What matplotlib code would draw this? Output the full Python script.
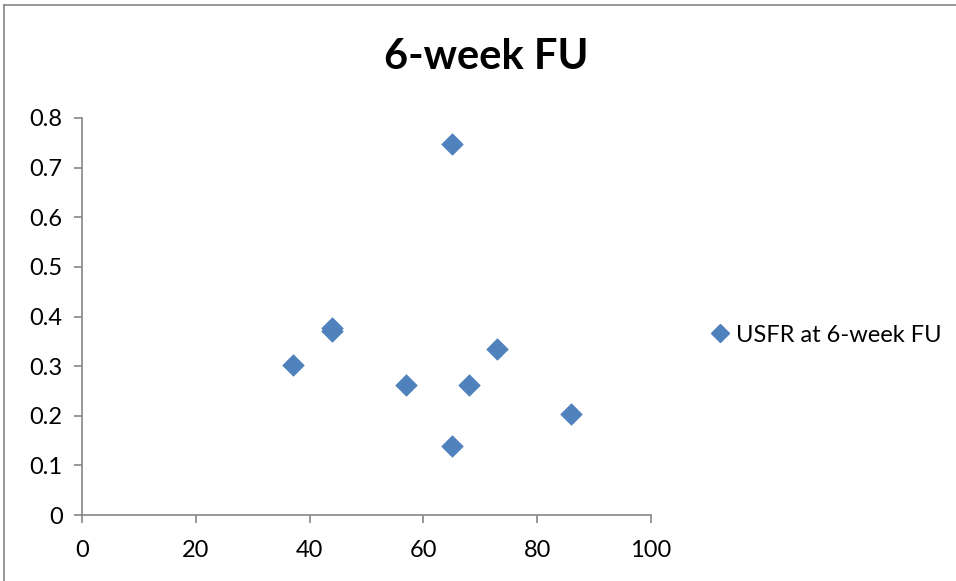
import matplotlib.pyplot as plt
from matplotlib.lines import Line2D

# USFR values at the 6-week follow-up
age = [37, 44, 44, 57, 65, 65, 68, 73, 86]
usfr = [0.303, 0.377, 0.370, 0.261, 0.747, 0.140, 0.261, 0.335, 0.203]
series_name = "USFR at 6-week FU"
title = "6-week FU"

plt.rcParams['font.family'] = ['Lato', 'DejaVu Sans']
blue = "#4f81bd"
grey = "#868686"

fig = plt.figure(figsize=(9.56, 5.81), dpi=100)
ax = fig.add_axes([82 / 956, 66 / 581, 569 / 956, 397 / 581])

ax.scatter(age, usfr, marker="D", s=120, color=blue, edgecolors=blue,
           linewidths=0.5, zorder=3, clip_on=False)

ax.set_xlim(0, 100)
ax.set_ylim(0, 0.8)
ax.set_xticks(range(0, 101, 20))
ax.set_yticks([i / 10 for i in range(9)])
ax.set_yticklabels(["0"] + ["%.1f" % (i / 10) for i in range(1, 9)])

for side in ["top", "right"]:
    ax.spines[side].set_visible(False)
for side in ["left", "bottom"]:
    ax.spines[side].set_color(grey)
    ax.spines[side].set_linewidth(1.2)
ax.tick_params(axis="both", colors=grey, length=6, width=1.2, labelsize=17,
               labelcolor="black")
ax.tick_params(axis="x", pad=12)
ax.tick_params(axis="y", pad=8)

fig.text(486 / 956, 1 - 57 / 581, title, ha="center", va="center",
         fontsize=30, fontweight="bold")

handle = Line2D([], [], marker="D", linestyle="none", color=blue,
                markersize=9)
fig.legend([handle], [series_name], loc="center left",
           bbox_to_anchor=(698 / 956, 1 - 335 / 581), frameon=False,
           fontsize=17, handletextpad=0.1, borderaxespad=0, handlelength=1.1)

# chart frame, only top and left edges fall inside the image
fig.add_artist(Line2D([4 / 956, 4 / 956], [0, 1 - 5 / 581], color=grey,
                      linewidth=1.2, transform=fig.transFigure))
fig.add_artist(Line2D([4 / 956, 1], [1 - 5 / 581, 1 - 5 / 581], color=grey,
                      linewidth=1.2, transform=fig.transFigure))

fig.savefig("out.png", dpi=100)
